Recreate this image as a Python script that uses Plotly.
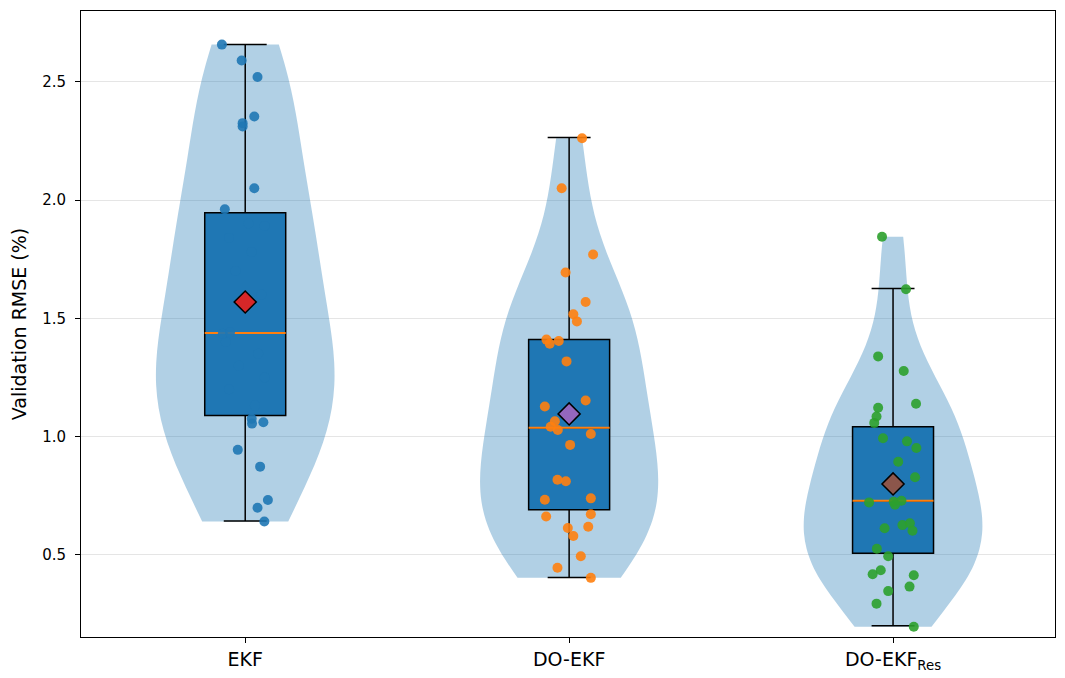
import numpy as np
import plotly.graph_objects as go

# categories and per-run validation RMSE (%)
categories = ["EKF", "DO-EKF", "DO-EKF<sub>Res</sub>"]

ekf_rmse = [2.657, 2.590, 2.520, 2.353, 2.325, 2.311, 2.050, 1.961,
            1.075, 1.055, 1.061, 0.944, 0.873, 0.732, 0.699, 0.641,
            # these sit inside the box (same colour, so they vanish)
            1.131, 1.200, 1.250, 1.300, 1.350, 1.400, 1.435, 1.441,
            1.600, 1.700, 1.780, 1.840, 1.890, 1.901]
ekf_jitter = [-0.072, -0.011, 0.038, 0.028, -0.008, -0.008, 0.028, -0.063,
              0.020, 0.021, 0.056, -0.023, 0.046, 0.070, 0.038, 0.059,
              0.030, -0.050, 0.060, -0.020, 0.040, -0.060, -0.069, -0.047,
              0.050, -0.030, 0.020, -0.050, 0.060, 0.010]

doekf_rmse = [2.261, 2.050, 1.770, 1.694, 1.569, 1.517, 1.487, 1.410,
              1.393, 1.404, 1.318, 1.127, 1.153, 1.065, 1.042, 1.028,
              1.011, 0.965, 0.818, 0.811, 0.733, 0.739, 0.662, 0.672,
              0.614, 0.580, 0.619, 0.494, 0.446, 0.403]
doekf_jitter = [0.040, -0.023, 0.074, -0.011, 0.051, 0.013, 0.024, -0.070,
                -0.060, -0.032, -0.008, -0.075, 0.051, -0.044, -0.057, -0.035,
                0.067, 0.003, -0.036, -0.010, -0.075, 0.067, -0.071, 0.067,
                -0.004, 0.013, 0.059, 0.036, -0.036, 0.067]

res_rmse = [1.845, 1.623, 1.339, 1.277, 1.139, 1.122, 1.085, 1.058,
            0.993, 0.980, 0.952, 0.894, 0.828, 0.722, 0.725, 0.729,
            0.613, 0.626, 0.634, 0.602, 0.526, 0.494, 0.418, 0.435,
            0.414, 0.366, 0.347, 0.294, 0.196, 0.712]
res_jitter = [-0.034, 0.040, -0.046, 0.033, 0.071, -0.046, -0.051, -0.058,
              -0.031, 0.043, 0.072, 0.016, 0.068, -0.074, 0.002, 0.026,
              -0.026, 0.029, 0.052, 0.060, -0.050, -0.015, -0.063, -0.038,
              0.064, 0.051, -0.015, -0.051, 0.064, 0.006]

# box statistics as drawn
q1 = [1.089, 0.691, 0.507]
median = [1.438, 1.037, 0.729]
q3 = [1.946, 1.410, 1.042]
whisker_low = [0.643, 0.405, 0.201]
whisker_high = [2.657, 2.264, 1.626]
means = [1.569, 1.096, 0.800]

point_colors = ["#1f77b4", "#ff7f0e", "#2ca02c"]
mean_colors = ["#d62728", "#9467bd", "#8c564b"]

groups = [ekf_rmse, doekf_rmse, res_rmse]
jitters = [ekf_jitter, doekf_jitter, res_jitter]
box_w = 0.25

fig = go.Figure()

# violins (scott bandwidth like matplotlib)
for i, vals in enumerate(groups):
    v = np.array(vals)
    bw = v.std(ddof=1) * len(v) ** (-0.2)
    fig.add_trace(go.Violin(
        x=[i] * len(v), y=v, width=0.55, spanmode="hard", scalemode="width",
        bandwidth=bw, points=False, fillcolor="rgba(31,119,180,0.35)",
        line=dict(width=0, color="rgba(0,0,0,0)"), hoverinfo="skip",
        showlegend=False))

# boxes
for i in range(3):
    fig.add_trace(go.Box(
        x=[i], q1=[q1[i]], median=[median[i]], q3=[q3[i]],
        lowerfence=[whisker_low[i]], upperfence=[whisker_high[i]],
        width=box_w, whiskerwidth=0.53, fillcolor="#1f77b4",
        line=dict(color="black", width=1.5), boxpoints=False, showlegend=False))
    fig.add_trace(go.Scatter(
        x=[i - box_w / 2, i + box_w / 2], y=[median[i], median[i]],
        mode="lines", line=dict(color="#ff7f0e", width=2), showlegend=False))

# jittered points
for i, vals in enumerate(groups):
    fig.add_trace(go.Scatter(
        x=[i + j for j in jitters[i]], y=vals, mode="markers",
        marker=dict(color=point_colors[i], size=10, opacity=0.9),
        showlegend=False))

# means
for i in range(3):
    fig.add_trace(go.Scatter(
        x=[i], y=[means[i]], mode="markers",
        marker=dict(symbol="diamond", size=17, color=mean_colors[i],
                    line=dict(color="black", width=1.5)),
        showlegend=False))

# page body adds 8px, so margins are shifted to compensate
fig.update_layout(
    width=1065, height=678,
    margin=dict(l=73, r=18, t=3, b=49),
    plot_bgcolor="white", paper_bgcolor="white",
    font=dict(family="DejaVu Sans", color="black"),
    violinmode="overlay", boxmode="overlay",
    xaxis=dict(range=[-0.507, 2.5], tickmode="array", tickvals=[0, 1, 2],
               ticktext=categories, tickfont=dict(size=19),
               showline=True, mirror=True, linecolor="black", linewidth=1,
               ticks="outside", ticklen=5, tickcolor="black",
               showgrid=False, zeroline=False),
    yaxis=dict(range=[0.153, 2.799], tickvals=[0.5, 1.0, 1.5, 2.0, 2.5],
               tickformat=".1f", tickfont=dict(size=15), ticklabelstandoff=6,
               title=dict(text="Validation RMSE (%)", font=dict(size=19), standoff=12),
               automargin=False,
               showline=True, mirror=True, linecolor="black", linewidth=1,
               ticks="outside", ticklen=5, tickcolor="black",
               showgrid=True, gridcolor="rgba(0,0,0,0.1)", zeroline=False),
)

fig.write_html("out.html")
